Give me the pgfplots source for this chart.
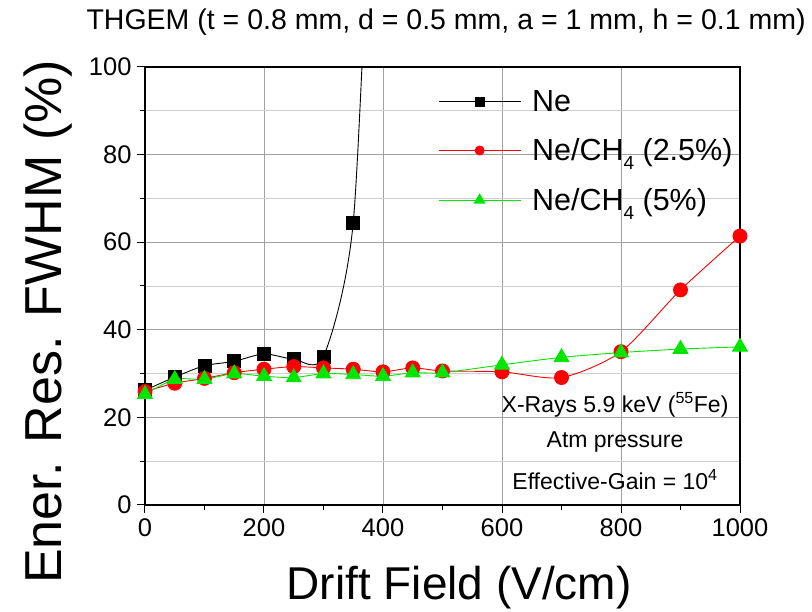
\documentclass[border=0pt]{standalone}
\usepackage{fontspec}
\setmainfont{Liberation Sans}
\setsansfont{Liberation Sans}
\usepackage{pgfplots}
\pgfplotsset{compat=1.18}

\definecolor{gridmaj}{RGB}{160,160,160}
\definecolor{gridmin}{RGB}{205,205,205}
\definecolor{nered}{RGB}{255,0,0}
\definecolor{negreen}{RGB}{0,230,0}

\newcommand{\fs}[1]{\fontsize{#1}{1.2\dimexpr#1\relax}\selectfont}
\newcommand{\sub}[1]{\raisebox{-0.55ex}{\fs{19pt}#1}}

\begin{document}
\begin{tikzpicture}
\useasboundingbox (-145pt,-107pt) rectangle (667pt,505pt);
\begin{axis}[
  at={(0pt,0pt)}, anchor=south west,
  scale only axis,
  width=595pt, height=438pt,
  xmin=0, xmax=1000, ymin=0, ymax=100,
  xtick={0,200,...,1000},
  ytick={0,20,...,100},
  minor x tick num=1,
  minor y tick num=1,
  tick align=outside,
  xtick pos=bottom, ytick pos=left,
  major tick length=8pt,
  minor tick length=5pt,
  tick style={black, line width=1pt},
  axis line style={black, line width=1.4pt},
  xmajorgrids, ymajorgrids, yminorgrids,
  major grid style={gridmaj, line width=0.9pt},
  minor grid style={gridmin, line width=0.9pt},
  /pgf/number format/assume math mode=true,
  /pgf/number format/1000 sep={},
  tick label style={font=\fs{25.5pt}},
  xticklabel style={yshift=-2pt},
  yticklabel style={xshift=-2pt},
  title={THGEM (t = 0.8 mm, d = 0.5 mm, a = 1 mm, h = 0.1 mm)},
  title style={at={(0.506,1.0730)}, anchor=base, font=\fs{28.5pt}},
  xlabel={Drift Field (V/cm)},
  xlabel style={at={(0.528,-0.2169)}, anchor=base, font=\fs{46pt}},
  ylabel={Ener. Res. FWHM (\%)},
  ylabel style={at={(-0.1395,0.418)}, anchor=base, font=\fs{52pt}},
  legend cell align=left,
  legend style={at={(0.4924,0.952)}, anchor=north west, draw=none, fill=none,
    font=\fs{30.5pt}, row sep=22pt, inner sep=0pt,
    nodes={inner sep=2pt}},
  legend image code/.code={
    \draw[mark=none] (-41pt,0pt) -- (41pt,0pt);
    \draw[mark size=4.5pt,mark options={solid}] plot[only marks] coordinates {(0pt,0pt)};
  },
]

% Ne
\addplot[black, line width=0.9pt, smooth, tension=0.45,
  mark=square*, mark size=6.5pt, mark options={solid,fill=black}]
  coordinates {
  (0,26.2) (50,29.2) (100,31.8) (150,32.8) (200,34.5) (250,33.3)
  (300,33.9) (350,64.5) (380,150)
};
\addlegendentry{\hspace*{9pt}Ne}

% Ne/CH4 (2.5%)
\addplot[nered, line width=0.9pt, smooth, tension=0.45,
  mark=*, mark size=7pt, mark options={solid,fill=nered,draw=nered}]
  coordinates {
  (0,25.9) (50,27.8) (100,28.9) (150,30.2) (200,31.0) (250,31.6)
  (300,31.3) (350,31.0) (400,30.4) (450,31.3) (500,30.6) (600,30.4)
  (700,29.1) (800,35.0) (900,49.1) (1000,61.4)
};
\addlegendentry{\hspace*{9pt}Ne/CH\sub{4} (2.5\%)}

% Ne/CH4 (5%)
\addplot[negreen, line width=0.9pt, smooth, tension=0.45,
  mark=triangle*, mark size=8.5pt, mark options={solid,fill=negreen,draw=negreen},
  legend image code/.code={
    \draw[mark=none] (-41pt,0pt) -- (41pt,0pt);
    \draw[mark size=6pt,mark options={solid}] plot[only marks] coordinates {(0pt,0pt)};
  }]
  coordinates {
  (0,25.3) (50,28.7) (100,28.7) (150,30.0) (200,29.4) (250,29.1)
  (300,30.0) (350,29.8) (400,29.4) (450,30.2) (500,30.2) (600,32.0)
  (700,33.7) (800,34.8) (900,35.6) (1000,36.1)
};
\addlegendentry{\hspace*{9pt}Ne/CH\sub{4} (5\%)}

\node[font=\fs{23pt}, inner sep=0pt] at (axis cs:790,22.8) {X-Rays 5.9 keV (\textsuperscript{55}Fe)};
\node[font=\fs{23pt}, inner sep=0pt] at (axis cs:790,14.4) {Atm pressure};
\node[font=\fs{23pt}, inner sep=0pt] at (axis cs:790,5.7) {Effective-Gain = 10\textsuperscript{4}};

\end{axis}
\end{tikzpicture}
\end{document}
